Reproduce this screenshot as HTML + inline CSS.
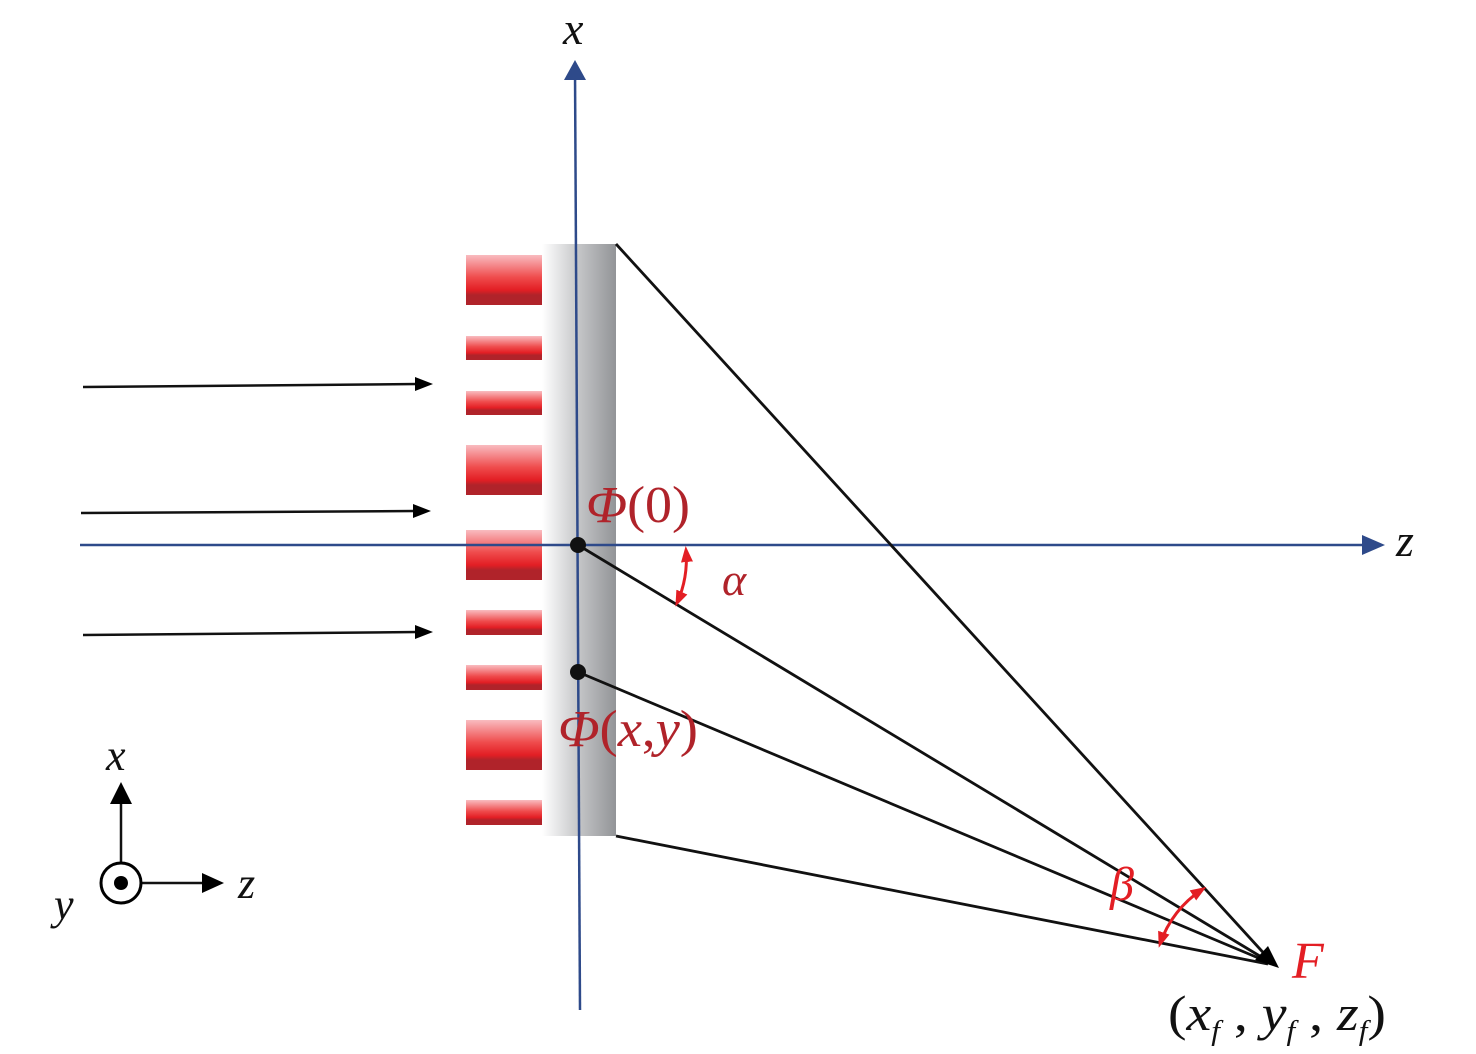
<!DOCTYPE html>
<html><head><meta charset="utf-8"><style>html,body{margin:0;padding:0;background:#fff}svg{display:block}text{font-family:"Liberation Serif","Times New Roman",serif;font-style:italic}</style></head><body>
<svg width="1476" height="1054" viewBox="0 0 1476 1054" xmlns="http://www.w3.org/2000/svg">
<defs>
<linearGradient id="slab" x1="0" x2="1" y1="0" y2="0"><stop offset="0" stop-color="#fff"/><stop offset="0.5" stop-color="#c4c5c7"/><stop offset="1" stop-color="#929497"/></linearGradient>
<linearGradient id="bar" x1="0" x2="0" y1="0" y2="1"><stop offset="0" stop-color="#f9bcc0"/><stop offset="0.45" stop-color="#ef4b4c"/><stop offset="0.7" stop-color="#e31e24"/><stop offset="0.8" stop-color="#b0232a"/><stop offset="1" stop-color="#b0232a"/></linearGradient>
<marker id="ar" markerWidth="16" markerHeight="14" refX="12" refY="7" orient="auto-start-reverse" markerUnits="userSpaceOnUse"><path d="M0,1 L16,7 L0,13z" fill="#e31e24"/></marker>
</defs>
<rect x="542" y="244" width="74" height="592" fill="url(#slab)"/>
<g fill="url(#bar)">
<rect x="466" y="255" width="76" height="50"/><rect x="466" y="336" width="76" height="24"/><rect x="466" y="391" width="76" height="24"/><rect x="466" y="445" width="76" height="50"/><rect x="466" y="530" width="76" height="50"/><rect x="466" y="610" width="76" height="25"/><rect x="466" y="665" width="76" height="25"/><rect x="466" y="720" width="76" height="50"/><rect x="466" y="800" width="76" height="25"/>
</g>
<g stroke="#2e4a8a" stroke-width="2.5" fill="none">
<line x1="580" y1="1010" x2="575" y2="70"/>
<line x1="80" y1="545" x2="1370" y2="545"/>
</g>
<path d="M575,60 L564,80 L586,80z" fill="#2e4a8a"/>
<path d="M1385,545 L1362,535 L1362,555z" fill="#2e4a8a"/>
<g stroke="#111" stroke-width="2.8" fill="none">
<line x1="616" y1="244" x2="1270" y2="960"/>
<line x1="578" y1="545" x2="1268" y2="961"/>
<line x1="578" y1="672" x2="1268" y2="962"/>
<line x1="616" y1="836" x2="1268" y2="964"/>
<line x1="83" y1="387" x2="418" y2="384" stroke-width="2.5"/>
<line x1="81" y1="513" x2="416" y2="511" stroke-width="2.5"/>
<line x1="83" y1="635" x2="418" y2="632" stroke-width="2.5"/>
<line x1="121" y1="863" x2="121" y2="800" stroke-width="2.5"/>
<line x1="141" y1="883" x2="205" y2="883" stroke-width="2.5"/>
</g>
<path d="M433,384 L415,377 L415,391z" fill="#000"/>
<path d="M431,511 L413,504 L413,518z" fill="#000"/>
<path d="M433,632 L415,625 L415,639z" fill="#000"/>
<path d="M1279,968 L1255,960 L1268,946z" fill="#000"/>
<path d="M121,782 L110,804 L132,804z" fill="#000"/>
<path d="M224,883 L202,873 L202,893z" fill="#000"/>
<circle cx="121" cy="883" r="20" fill="#fff" stroke="#000" stroke-width="3"/>
<circle cx="121" cy="883" r="7" fill="#000"/>
<circle cx="578" cy="545" r="8" fill="#111"/>
<circle cx="578" cy="672" r="8" fill="#111"/>
<path d="M686,550 A108,108 0 0 1 677,603" stroke="#e31e24" stroke-width="3" fill="none" marker-start="url(#ar)" marker-end="url(#ar)"/>
<path d="M1203,889 A105,105 0 0 0 1160,944" stroke="#e31e24" stroke-width="3" fill="none" marker-start="url(#ar)" marker-end="url(#ar)"/>
<g fill="#b0232a" font-size="52">
<text x="586" y="522" textLength="104" lengthAdjust="spacingAndGlyphs">Φ<tspan font-style="normal">(0)</tspan></text>
<text x="558" y="746" textLength="140" lengthAdjust="spacingAndGlyphs">Φ<tspan font-style="normal">(</tspan>x<tspan font-style="normal">,</tspan>y<tspan font-style="normal">)</tspan></text>
<text x="722" y="595" font-size="46">α</text>
</g>
<text x="1110" y="900" font-size="48" fill="#e31e24">β</text>
<text x="1292" y="978" font-size="52" fill="#e31e24">F</text>
<text x="1168" y="1030" font-size="50" fill="#111" textLength="218" lengthAdjust="spacingAndGlyphs"><tspan font-style="normal">(</tspan>x<tspan font-size="28" dy="10">f</tspan><tspan dy="-10" font-style="normal"> , </tspan>y<tspan font-size="28" dy="10">f</tspan><tspan dy="-10" font-style="normal"> , </tspan>z<tspan font-size="28" dy="10">f</tspan><tspan dy="-10" font-style="normal">)</tspan></text>
<g fill="#111" font-size="46">
<text x="563" y="44">x</text>
<text x="1396" y="556">z</text>
<text x="106" y="770" font-size="44">x</text>
<text x="238" y="898" font-size="44">z</text>
<text x="54" y="919" font-size="44">y</text>
</g>
</svg>
</body></html>
